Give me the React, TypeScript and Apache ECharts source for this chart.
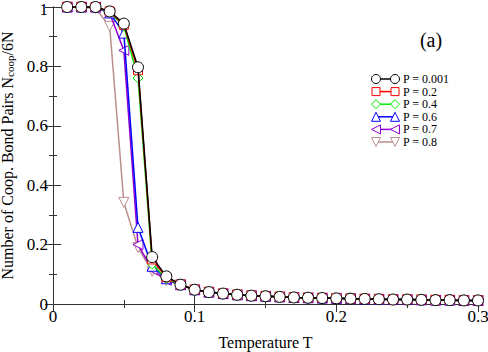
import React, { useEffect, useRef } from "react";
import * as echarts from "echarts";

const temps = [
  0.01, 0.02, 0.03, 0.04, 0.05, 0.06, 0.07, 0.08, 0.09, 0.1,
  0.11, 0.12, 0.13, 0.14, 0.15, 0.16, 0.17, 0.18, 0.19, 0.2,
  0.21, 0.22, 0.23, 0.24, 0.25, 0.26, 0.27, 0.28, 0.29, 0.3,
];

// common high-temperature tail (T = 0.09 ... 0.30)
const tail = [
  0.065, 0.048, 0.04, 0.035, 0.031, 0.028, 0.026, 0.024, 0.022, 0.021, 0.02,
  0.019, 0.018, 0.017, 0.016, 0.015, 0.015, 0.014, 0.013, 0.013, 0.012, 0.012,
];

// low-temperature part (T = 0.01 ... 0.08)
const headP0001 = [1, 1, 1, 0.985, 0.944, 0.797, 0.158, 0.093];
const headP02 = [1, 1, 1, 0.985, 0.94, 0.787, 0.15, 0.09];
const headP04 = [1, 1, 1, 0.983, 0.935, 0.761, 0.135, 0.086];
const headP06 = [1, 1, 1, 0.98, 0.912, 0.258, 0.127, 0.085];
const headP07 = [1, 1, 1, 0.98, 0.854, 0.2, 0.116, 0.08];
const headP08 = [1, 1, 0.995, 0.935, 0.342, 0.19, 0.11, 0.08];

const seriesNames = ["P = 0.001", "P = 0.2", "P = 0.4", "P = 0.6", "P = 0.7", "P = 0.8"];
const seriesHeads = [headP0001, headP02, headP04, headP06, headP07, headP08];
const colors = ["#000000", "#ff0000", "#00ee00", "#0000ff", "#9400d3", "#bc8f8f"];
const symbols = ["circle", "rect", "diamond", "triangle", "triangle", "triangle"];
const rotations = [0, 0, 0, 0, 90, 180];
const sizes = [11, 9, 10, 10, 10, 10];

const xTicks = [0, 0.1, 0.2, 0.3];
const yTicks = [0, 0.2, 0.4, 0.6, 0.8, 1];

const FONT = "'Liberation Serif', 'DejaVu Serif', serif";

function legendSymbol(kind: number, cx: number, cy: number, color: string) {
  const style = { fill: "#fff", stroke: color, lineWidth: 1 };
  const r = 4.5;
  if (kind === 0) return { type: "circle", shape: { cx, cy, r }, style, z: 10 };
  if (kind === 1) return { type: "rect", shape: { x: cx - 4, y: cy - 4, width: 8, height: 8 }, style, z: 10 };
  if (kind === 2)
    return { type: "polygon", shape: { points: [[cx, cy - r], [cx + r, cy], [cx, cy + r], [cx - r, cy]] }, style, z: 10 };
  if (kind === 3)
    return { type: "polygon", shape: { points: [[cx, cy - r], [cx + r, cy + r], [cx - r, cy + r]] }, style, z: 10 };
  if (kind === 4)
    return { type: "polygon", shape: { points: [[cx - r, cy], [cx + r, cy - r], [cx + r, cy + r]] }, style, z: 10 };
  return { type: "polygon", shape: { points: [[cx - r, cy - r], [cx + r, cy - r], [cx, cy + r]] }, style, z: 10 };
}

export default function App() {
  const ref = useRef<HTMLDivElement>(null);
  useEffect(() => {
    if (!ref.current) return;
    const chart = echarts.init(ref.current, null, { renderer: "svg" });

    const series: any[] = [];
    for (let i = seriesNames.length - 1; i >= 0; i--) {
      const values = [...seriesHeads[i], ...tail];
      series.push({
        type: "line",
        name: seriesNames[i],
        data: temps.map((t, k) => [t, values[k]]),
        symbol: symbols[i],
        symbolSize: sizes[i],
        symbolRotate: rotations[i],
        showAllSymbol: true,
        lineStyle: { color: colors[i], width: 1.5 },
        itemStyle: { color: "#fff", borderColor: colors[i], borderWidth: 1 },
        z: 2 + (seriesNames.length - i),
      });
    }

    const graphic: any[] = [];
    seriesNames.forEach((n, i) => {
      const y = 79 + i * 12.6;
      graphic.push({
        type: "line",
        shape: { x1: 376, y1: y, x2: 395, y2: y },
        style: { stroke: colors[i], lineWidth: 1.5 },
        z: 9,
      });
      graphic.push(legendSymbol(i, 376, y, colors[i]));
      graphic.push(legendSymbol(i, 395, y, colors[i]));
      graphic.push({
        type: "text",
        x: 403,
        y,
        style: { text: n, font: `12px ${FONT}`, fill: "#000", verticalAlign: "middle", align: "left" },
        z: 10,
      });
    });
    graphic.push({
      type: "text",
      x: 431,
      y: 40,
      style: { text: "(a)", font: `20px ${FONT}`, fill: "#000", align: "center", verticalAlign: "middle" },
    });

    const axisCommon = {
      axisLine: { show: true, lineStyle: { color: "#333", width: 1 } },
      axisTick: { show: true, inside: true, length: 8, lineStyle: { color: "#333" } },
      minorTick: { show: true, splitNumber: 2, length: 4, lineStyle: { color: "#333" } },
      splitLine: { show: false },
    };

    const yMax = yTicks[yTicks.length - 1];

    chart.setOption({
      animation: false,
      grid: { left: 53, right: 10, top: 7, bottom: 48, containLabel: false, outerBoundsMode: "none" },
      xAxis: [
        {
          type: "value",
          min: xTicks[0],
          max: xTicks[xTicks.length - 1],
          interval: 0.1,
          position: "bottom",
          ...axisCommon,
          axisLabel: {
            fontFamily: FONT,
            fontSize: 17,
            color: "#000",
            margin: 4,
            formatter: (v: number) => String(Number(v.toFixed(2))),
          },
          name: "Temperature T",
          nameLocation: "middle",
          nameGap: 30,
          nameTextStyle: { fontFamily: FONT, fontSize: 16, color: "#000" },
        },
        {
          type: "value",
          min: xTicks[0],
          max: xTicks[xTicks.length - 1],
          interval: 0.1,
          position: "top",
          ...axisCommon,
          axisLabel: { show: false },
        },
      ],
      yAxis: [
        {
          type: "value",
          min: yTicks[0],
          max: yMax,
          interval: 0.2,
          position: "left",
          ...axisCommon,
          axisLabel: {
            fontFamily: FONT,
            fontSize: 17,
            lineHeight: 14,
            color: "#000",
            margin: 5,
            formatter: (v: number) =>
              v === yMax ? "{top|" + String(v) + "}" : String(Number(v.toFixed(2))),
            rich: {
              top: { fontFamily: FONT, fontSize: 17, lineHeight: 14, color: "#000", padding: [5, 0, 0, 0] },
            },
          },
          name: "{a|Number of Coop. Bond Pairs N}{s|coop}{a|/6N}",
          nameLocation: "middle",
          nameGap: 37,
          nameRotate: 90,
          nameTextStyle: {
            color: "#000",
            rich: {
              a: { fontFamily: FONT, fontSize: 16, color: "#000", lineHeight: 17 },
              s: { fontFamily: FONT, fontSize: 11, color: "#000", lineHeight: 17, verticalAlign: "bottom" },
            },
          },
        },
        {
          type: "value",
          min: yTicks[0],
          max: yMax,
          interval: 0.2,
          position: "right",
          ...axisCommon,
          axisLabel: { show: false },
        },
      ],
      graphic,
      series,
    });
    return () => chart.dispose();
  }, []);
  return <div ref={ref} style={{ width: 488, height: 352, position: "absolute", left: 0, top: 0 }} />;
}
